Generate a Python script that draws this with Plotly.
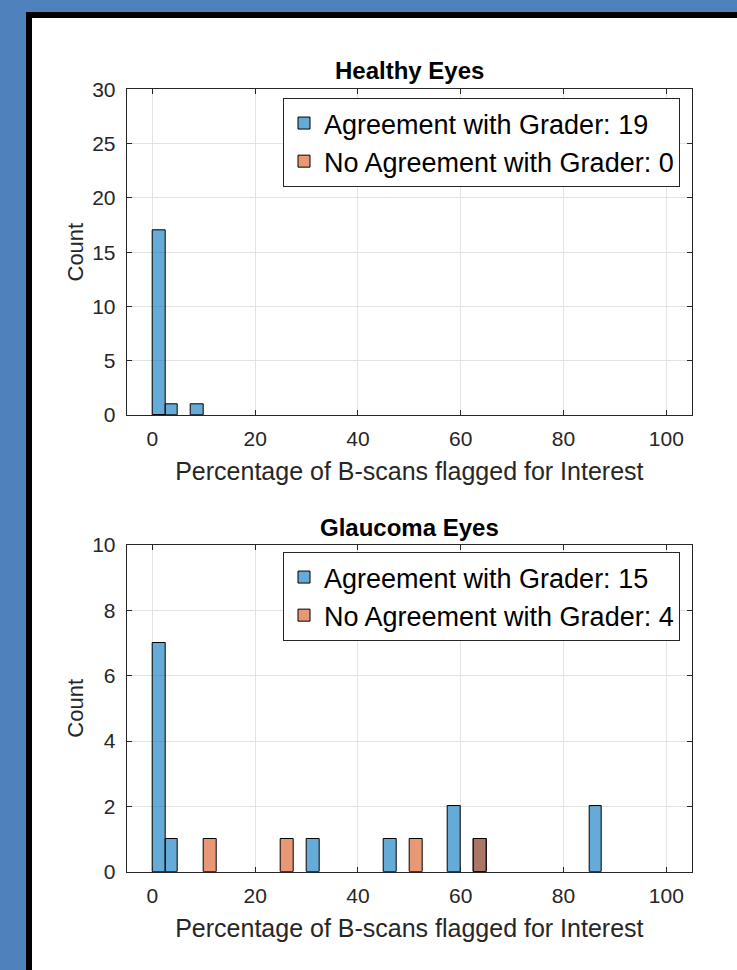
import plotly.graph_objects as go

# ---- data (histogram bins of width 2.5 %, given by left edge) ----
BIN_WIDTH = 2.5

healthy_agree_bins = [0, 2.5, 7.5]
healthy_agree_counts = [17, 1, 1]
healthy_disagree_bins = []
healthy_disagree_counts = []

glaucoma_agree_bins = [0, 2.5, 30, 45, 57.5, 62.5, 85]
glaucoma_agree_counts = [7, 1, 1, 1, 2, 1, 2]
glaucoma_disagree_bins = [10, 25, 50, 62.5]
glaucoma_disagree_counts = [1, 1, 1, 1]

x_ticks = [0, 20, 40, 60, 80, 100]
healthy_y_ticks = [0, 5, 10, 15, 20, 25, 30]
glaucoma_y_ticks = [0, 2, 4, 6, 8, 10]

titles = ["Healthy Eyes", "Glaucoma Eyes"]
x_label = "Percentage of B-scans flagged for Interest"
y_label = "Count"

BLUE = "rgba(0,114,189,0.6)"
ORANGE = "rgba(217,83,25,0.6)"
FONT = "Liberation Sans, Arial, sans-serif"
W, H = 737, 970

fig = go.Figure()


def add_bars(bins, counts, name, color, xa, ya, legend):
    # an empty series is kept as a single zero-height bar so it still gets a legend entry
    xs = bins if len(bins) else [0]
    ys = counts if len(counts) else [0]
    fig.add_trace(go.Bar(
        x=xs, y=ys, width=BIN_WIDTH, offset=0, name=name,
        marker=dict(color=color, line=dict(color="black", width=1)),
        xaxis=xa, yaxis=ya, legend=legend, showlegend=True,
    ))


add_bars(healthy_agree_bins, healthy_agree_counts,
         f"Agreement with Grader: {sum(healthy_agree_counts)}", BLUE, "x", "y", "legend")
add_bars(healthy_disagree_bins, healthy_disagree_counts,
         f"No Agreement with Grader: {sum(healthy_disagree_counts)}", ORANGE, "x", "y", "legend")
add_bars(glaucoma_agree_bins, glaucoma_agree_counts,
         f"Agreement with Grader: {sum(glaucoma_agree_counts)}", BLUE, "x2", "y2", "legend2")
add_bars(glaucoma_disagree_bins, glaucoma_disagree_counts,
         f"No Agreement with Grader: {sum(glaucoma_disagree_counts)}", ORANGE, "x2", "y2", "legend2")

xdom = [126.7 / W, 692 / W]
ydom_top = [1 - 415 / H, 1 - 89.3 / H]
ydom_bot = [1 - 871.7 / H, 1 - 545 / H]

axis_common = dict(
    showline=True, linecolor="#262626", linewidth=1, mirror="ticks",
    ticks="inside", ticklen=5, tickcolor="#262626", automargin=False,
    showgrid=True, gridcolor="#e3e3e3", gridwidth=1, zeroline=False,
    tickfont=dict(family=FONT, size=21, color="#262626"),
)

xaxis_common = dict(axis_common, range=[-5, 105], tickvals=x_ticks,
                    ticklabelstandoff=5,
                    title=dict(text=x_label, font=dict(family=FONT, size=25, color="#262626"),
                               standoff=13))
ytitle = dict(text=y_label, font=dict(family=FONT, size=22, color="#262626"), standoff=2)

legend_common = dict(xanchor="right", yanchor="top",
                     bgcolor="white", bordercolor="#262626", borderwidth=1,
                     font=dict(family=FONT, size=27, color="black"),
                     tracegroupgap=0, traceorder="normal")

fig.update_layout(
    width=W, height=H,
    margin=dict(l=0, r=0, t=0, b=0, pad=0, autoexpand=False),
    paper_bgcolor="#4F81BD",
    plot_bgcolor="white",
    barmode="overlay",
    bargap=0,
    font=dict(family=FONT, color="#262626"),
    xaxis=dict(xaxis_common, domain=xdom, anchor="y"),
    yaxis=dict(axis_common, domain=ydom_top, anchor="x", range=[0, 30],
               tickvals=healthy_y_ticks, ticklabelstandoff=6, title=ytitle),
    xaxis2=dict(xaxis_common, domain=xdom, anchor="y2"),
    yaxis2=dict(axis_common, domain=ydom_bot, anchor="x2", range=[0, 10],
                tickvals=glaucoma_y_ticks, ticklabelstandoff=6, title=ytitle),
    legend=dict(legend_common, x=680 / W, y=1 - 98 / H),
    legend2=dict(legend_common, x=680 / W, y=1 - 552 / H),
    shapes=[
        dict(type="rect", xref="paper", yref="paper", layer="below",
             x0=26 / W, x1=1.05, y0=-0.05, y1=1 - 12 / H,
             fillcolor="black", line=dict(width=0)),
        dict(type="rect", xref="paper", yref="paper", layer="below",
             x0=32 / W, x1=1.05, y0=-0.05, y1=1 - 18 / H,
             fillcolor="white", line=dict(width=0)),
    ],
    annotations=[
        dict(text=f"<b>{titles[0]}</b>", xref="x domain", yref="y domain", x=0.5, y=1,
             xanchor="center", yanchor="bottom", yshift=3, showarrow=False,
             font=dict(family=FONT, size=24, color="black")),
        dict(text=f"<b>{titles[1]}</b>", xref="x2 domain", yref="y2 domain", x=0.5, y=1,
             xanchor="center", yanchor="bottom", yshift=2, showarrow=False,
             font=dict(family=FONT, size=24, color="black")),
    ],
)

fig.write_html(
    "out.html",
    config={"displayModeBar": False},
    post_script="document.body.style.margin='0';document.body.style.overflow='hidden';",
)
